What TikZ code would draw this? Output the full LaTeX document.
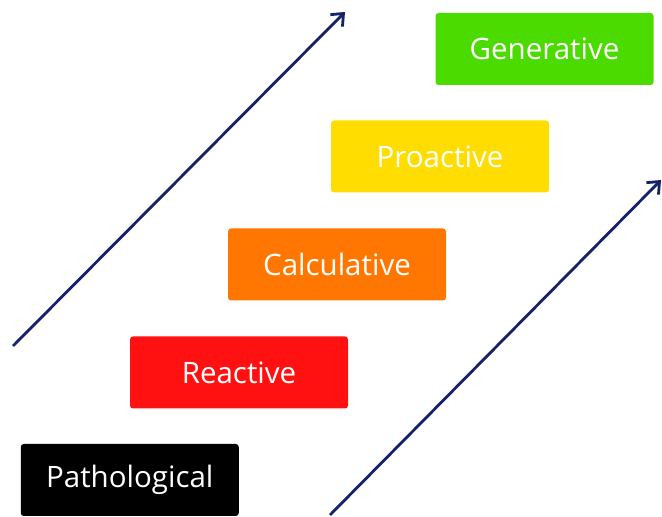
\documentclass[tikz,border=0pt]{standalone}
\usepackage{fontspec}
\setmainfont{Open Sans}
\usetikzlibrary{arrows.meta}
\definecolor{cgen}{HTML}{4CDB00}
\definecolor{cpro}{HTML}{FFDD00}
\definecolor{ccal}{HTML}{FF7700}
\definecolor{crea}{HTML}{FF1111}
\definecolor{carr}{HTML}{14216B}
\tikzset{
  level/.style={rounded corners=3pt, minimum width=218pt, minimum height=72pt, inner sep=0pt,
    text=white, font=\fontsize{29.5}{34}\selectfont},
  trend/.style={draw=carr, line width=2.8pt, -{Straight Barb[length=10pt,width=17pt,line width=2.8pt]}}
}
\begin{document}
\begin{tikzpicture}[x=1pt,y=1pt]
\useasboundingbox (0,0) rectangle (662,517);
\node[level, fill=black] (pat) at (129.75,37) {Pathological};
\node[level, fill=crea] (rea) at (239,144.5) {Reactive};
\node[level, fill=ccal] (cal) at (337,252.5) {Calculative};
\node[level, fill=cpro] (pro) at (440,360.5) {Proactive};
\node[level, fill=cgen] (gen) at (544.5,468) {Generative};
\coordinate (a1s) at (13,171);
\coordinate (a1e) at (345,505);
\coordinate (a2s) at (330,2);
\coordinate (a2e) at (661,337);
\draw[trend] (a1s) -- (a1e);
\draw[trend] (a2s) -- (a2e);
\end{tikzpicture}
\end{document}
